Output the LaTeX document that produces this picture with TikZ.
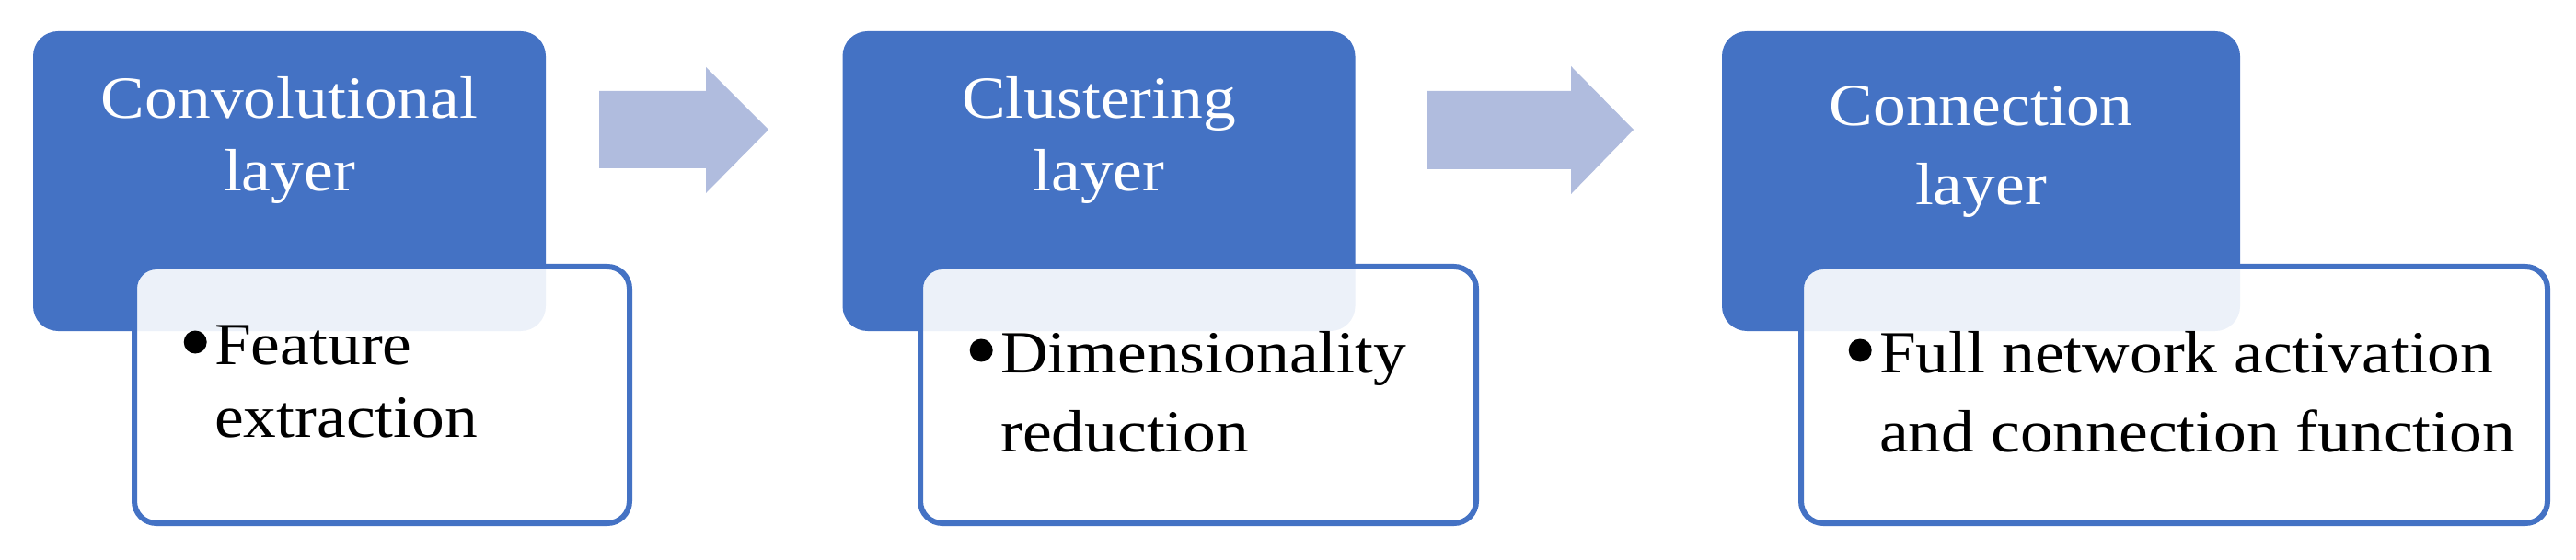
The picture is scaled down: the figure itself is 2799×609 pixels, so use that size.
\documentclass[tikz,border=0pt]{standalone}
\usepackage{fontspec}
\setmainfont{Liberation Serif}[FakeStretch=1.1]
\definecolor{accblue}{HTML}{4472C4}
\definecolor{arrowfill}{HTML}{B0BCDE}
\newcommand\twoc[3]{\vtop{\baselineskip=#1\lineskiplimit=-1000pt\lineskip=0pt\halign{\hfil##\hfil\cr#2\cr#3\cr}}}
\newcommand\twol[3]{\vtop{\baselineskip=#1\lineskiplimit=-1000pt\lineskip=0pt\halign{##\hfil\cr#2\cr#3\cr}}}
\newcommand\bul{\llap{\tikz[baseline=0pt]\fill (0pt,24pt) circle (12.5pt);\hspace{8.5pt}}}
\tikzset{
  bluebox/.style={rectangle, fill=accblue, draw=none, rounded corners=27pt, inner sep=0pt, minimum width=557pt, minimum height=326pt},
  whitebox/.style={rectangle, draw=accblue, line width=6pt, fill=white, fill opacity=0.9, rounded corners=24pt, inner sep=0pt, minimum height=279pt},
  titletext/.style={inner sep=0pt, text=white, font=\fontsize{65}{79}\selectfont},
  bodytext/.style={inner sep=0pt, text=black, font=\fontsize{65}{79}\selectfont},
  blockarrow/.style={fill=arrowfill, draw=none}
}
\begin{document}
\begin{tikzpicture}[x=1pt, y=-1pt]
\useasboundingbox (0,0) rectangle (2799,609);
% step 1
\node[bluebox] (b1) at (314.5,197) {};
\node[whitebox, minimum width=538pt] (w1) at (415,429.5) {};
\node[titletext, anchor=base] (t1) at (b1.center |- 0,129) {\twoc{79pt}{Convolutional}{layer}};
\node[bodytext, anchor=base west] (d1) at (233,396) {\twol{79pt}{\bul Feature}{extraction}};
% arrow 1
\fill[blockarrow] (651,99) -- (767,99) -- (767,73) -- (835,141) -- (767,210) -- (767,183) -- (651,183) -- cycle;
% step 2
\node[bluebox] (b2) at (1194,197) {};
\node[whitebox, minimum width=604pt] (w2) at (1302,429.5) {};
\node[titletext, anchor=base] (t2) at (b2.center |- 0,129) {\twoc{79pt}{Clustering}{layer}};
\node[bodytext, anchor=base west] (d2) at (1087,405) {\twol{86pt}{\bul Dimensionality}{reduction}};
% arrow 2
\fill[blockarrow] (1550,99) -- (1707,99) -- (1707,72) -- (1775,141) -- (1707,211) -- (1707,184) -- (1550,184) -- cycle;
% step 3
\node[bluebox, minimum width=563pt] (b3) at (2152.5,197) {};
\node[whitebox, minimum width=811pt] (w3) at (2362.5,429.5) {};
\node[titletext, anchor=base] (t3) at (b3.center |- 0,137) {\twoc{86pt}{Connection}{layer}};
\node[bodytext, anchor=base west] (d3) at (2042,405) {\twol{86pt}{\bul Full network activation}{and connection function}};
\end{tikzpicture}
\end{document}
